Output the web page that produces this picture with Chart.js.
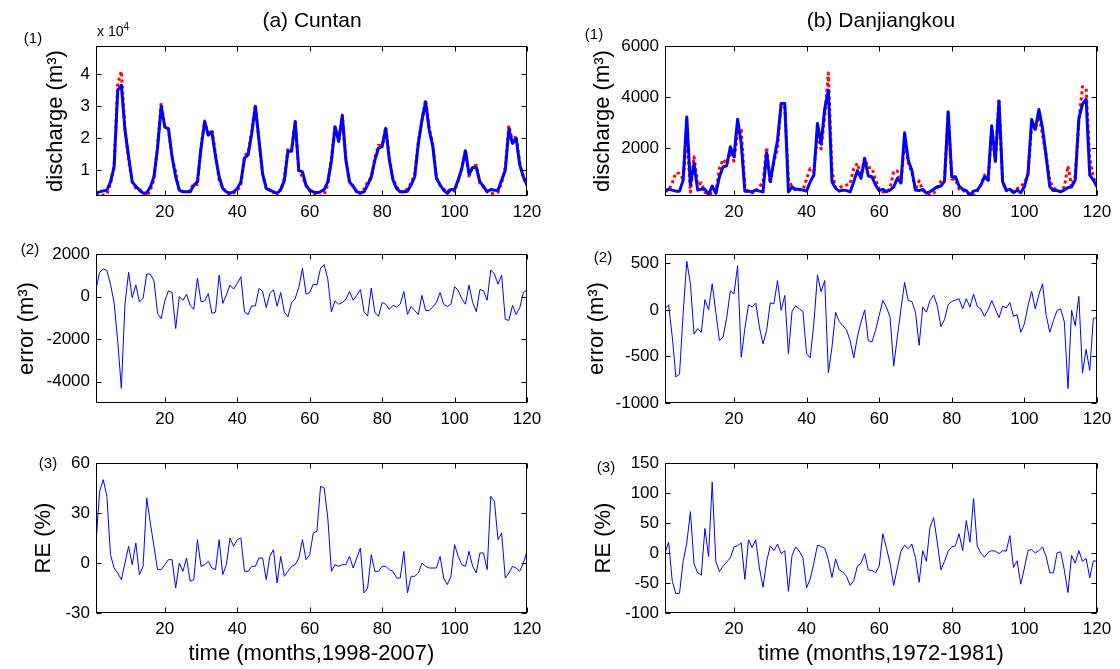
<!DOCTYPE html>
<html><head><meta charset="utf-8">
<script src="https://cdn.jsdelivr.net/npm/chart.js@4.4.1/dist/chart.umd.min.js"></script>
<style>
html,body{margin:0;padding:0;background:#fff;}
#wrap{position:relative;width:1120px;height:669px;overflow:hidden;font-family:"Liberation Sans",Arial,sans-serif;color:#000;background:#fff;}
canvas{position:absolute;}
.lbl{position:absolute;transform:translate(-50%,-50%);white-space:nowrap;line-height:1;}
.lft{position:absolute;white-space:nowrap;line-height:1;}
sup{font-size:10px;vertical-align:6px;line-height:0;}
</style></head><body>
<div id="wrap">
<canvas id="c11" width="560" height="222" style="left:0;top:0"></canvas>
<canvas id="c12" width="560" height="222" style="left:560px;top:0"></canvas>
<canvas id="c21" width="560" height="206" style="left:0;top:222px"></canvas>
<canvas id="c22" width="560" height="206" style="left:560px;top:222px"></canvas>
<canvas id="c31" width="560" height="241" style="left:0;top:428px"></canvas>
<canvas id="c32" width="560" height="241" style="left:560px;top:428px"></canvas>
<div class="lbl" style="left:312px;top:19px;font-size:21px">(a) Cuntan</div>
<div class="lbl" style="left:881px;top:19px;font-size:21px">(b) Danjiangkou</div>
<div class="lbl" style="left:33px;top:37px;font-size:15px">(1)</div>
<div class="lbl" style="left:594px;top:33px;font-size:15px">(1)</div>
<div class="lbl" style="left:30px;top:248px;font-size:15px">(2)</div>
<div class="lbl" style="left:603px;top:256px;font-size:15px">(2)</div>
<div class="lbl" style="left:48px;top:462px;font-size:15px">(3)</div>
<div class="lbl" style="left:606px;top:466px;font-size:15px">(3)</div>
<div class="lft" style="left:97px;top:24px;font-size:14px">x 10<sup>4</sup></div>
</div>
<script>
// ---------- data ----------
const months = Array.from({length:120},(_,i)=>i+1);
const xTicks = [20,40,60,80,100,120];

const cuntanSimulated = [3000,3300,3600,3800,6400,11100,35000,36600,22600,14300,
 6400,5000,3800,2900,3000,4800,8000,17000,30000,23500,
 23000,14300,8000,3800,3300,3300,3300,5300,6400,17000,
 25200,21000,22000,14300,8000,4300,3300,2900,3300,4300,
 6400,13800,14800,21600,30000,19500,9000,4300,3800,3300,
 2800,4000,6800,16000,16000,25200,10000,9500,5300,3800,
 3300,3000,3300,4000,6400,13000,23600,19000,27000,13200,
 6400,5000,3300,3000,3300,5500,8000,13200,16900,17400,
 23100,13200,7000,4300,3300,3300,3500,5500,8000,18400,
 25700,31400,22600,17400,7500,5500,3800,2800,4000,4000,
 7000,10600,16100,8800,10900,10900,6400,5000,3300,4000,
 3800,3800,7000,10000,22900,18400,20000,11700,8000,5500];
const cuntanObserved = [2650,2160,2300,2580,5820,11380,37100,40910,22960,13160,
 6450,4450,4050,2980,1940,3740,7260,17800,31040,23700,
 22730,14110,9500,3800,3470,3190,3710,5900,5530,17250,
 25400,20860,22790,15030,6990,4620,3220,2360,2950,3680,
 5470,14530,15640,22040,30440,19120,8760,4820,3660,2980,
 3260,3810,7530,16950,16280,25280,9570,8170,5190,3610,
 2720,2450,1960,2500,5580,13710,23800,19360,27280,13330,
 6160,5170,3240,2670,4010,6420,7600,13960,17820,17680,
 23460,13800,7410,4790,3660,3060,4340,5970,8650,19240,
 25640,32050,23250,17890,7780,5310,4160,3270,4360,3540,
 6700,10700,16460,8260,11180,11610,6070,4730,3470,2750,
 2740,3220,5990,11070,24020,18810,20840,12220,7810,5200];
const cuntanError = [350,1140,1300,1220,580,-280,-2100,-4310,-360,1140,
 -50,550,-250,-80,1060,1060,740,-800,-1040,-200,
 270,190,-1500,0,-170,110,-410,-600,870,-250,
 -200,140,-790,-730,1010,-320,80,540,350,620,
 930,-730,-840,-440,-440,380,240,-520,140,320,
 -460,190,-730,-950,-280,-80,430,1330,110,190,
 580,550,1340,1500,820,-710,-200,-360,-280,-130,
 240,-170,60,330,-710,-920,400,-760,-920,-280,
 -360,-600,-410,-490,-360,240,-840,-470,-650,-840,
 60,-650,-650,-490,-280,190,-360,-470,-360,460,
 300,-100,-360,540,-280,-710,330,270,-170,1250,
 1060,580,1010,-1070,-1120,-410,-840,-520,190,300];
const cuntanRE = [12,43,50,40,5,-3,-6,-10,0,10,
 -1,12,-7,-2,39,24,10,-4,-4,-1,
 2,2,-15,0,-5,3,-11,-10,14,-2,
 -1,1,-3,-4,14,-7,-1,15,10,14,
 15,-5,-5,-2,-2,3,3,-10,4,8,
 -12,4,-8,-5,-2,-1,3,14,2,5,
 18,19,46,45,27,-5,-1,-2,-1,-1,
 4,-3,3,9,-18,-15,5,-5,-5,-2,
 -2,-4,-5,-9,-9,7,-18,-8,-8,-6,
 0,-2,-3,-3,-3,4,-9,-13,-8,11,
 4,-1,-2,7,-2,-6,6,6,-4,40,
 37,14,18,-9,-6,-2,-3,-5,0,7];

const danSimulated = [350,400,370,330,330,760,3230,570,1415,370,
 410,400,200,530,240,890,1280,1320,2060,1670,
 3140,2200,330,330,300,370,330,300,1830,700,
 1540,2320,3750,3750,300,490,400,400,370,330,
 700,960,2975,2170,3560,4270,700,440,330,370,
 350,300,700,1130,830,1610,920,890,570,350,
 400,310,370,500,830,660,2610,1540,1150,370,
 350,400,250,310,400,500,530,725,3430,890,
 890,530,400,350,180,330,370,570,890,760,
 2880,1500,3850,700,370,400,270,370,270,500,
 1025,3130,2740,3520,2790,1670,500,350,350,310,
 370,470,500,760,3170,3730,3920,960,760,500];
const danObserved = [340,345,660,1050,1020,800,2710,290,1675,570,
 650,290,200,250,265,1220,1570,1405,1855,1500,
 2665,2710,530,275,270,295,515,665,2050,625,
 1475,2005,3755,3595,770,505,355,390,385,800,
 1215,1110,2600,1975,3245,4945,1100,465,455,540,
 565,630,1215,1420,960,1610,1250,1235,790,410,
 300,280,450,1105,1120,650,2315,1440,1060,395,
 730,370,275,210,240,455,710,830,3375,800,
 785,410,390,230,150,160,330,560,960,760,
 2780,1490,3935,660,350,320,340,420,510,650,
 980,2930,2730,3355,2510,1730,740,465,355,300,
 500,1315,505,930,3025,4410,4345,1610,850,585];
const danError = [10,55,-290,-720,-690,-40,520,280,-260,-200,
 -240,110,0,280,-25,-330,-290,-85,205,170,
 475,-510,-200,55,30,75,-185,-365,-220,75,
 65,315,-5,155,-470,-15,45,10,-15,-470,
 -515,-150,375,195,315,-675,-400,-25,-125,-170,
 -215,-330,-515,-290,-130,0,-330,-345,-220,-60,
 100,30,-80,-605,-290,10,295,100,90,-25,
 -380,30,-25,100,160,45,-180,-105,55,90,
 105,120,10,120,30,170,40,10,-70,0,
 100,10,-85,40,20,80,-70,-50,-240,-150,
 45,200,10,165,280,-60,-240,-115,-5,10,
 -130,-845,-5,-170,145,-680,-425,-650,-90,-85];
const danRE = [0,18,-47,-68,-67,-14,17,69,-18,-33,
 -37,41,-6,118,-14,-31,-22,-15,-8,10,
 12,17,-44,22,9,22,-25,-57,-14,12,
 4,15,-1,4,-64,-4,10,3,-8,-58,
 -43,-17,13,11,8,-11,-41,-10,-28,-32,
 -39,-54,-46,-22,-17,-1,-28,-29,-33,-22,
 32,8,-17,-54,-25,3,13,7,15,-8,
 -49,4,-14,43,59,18,-28,-14,3,10,
 12,32,4,54,18,91,12,0,-7,1,
 4,3,-1,4,3,29,-24,-13,-52,-25,
 4,6,0,4,10,-6,-33,-33,0,2,
 -28,-66,-4,-17,4,-14,-9,-41,-13,-14];

const cuntanFlowTicks = [10000,20000,30000,40000];
const danFlowTicks = [2000,4000,6000];
const cuntanErrTicks = [-4000,-2000,0,2000];
const danErrTicks = [-1000,-500,0,500];
const cuntanReTicks = [-30,0,30,60];
const danReTicks = [-100,-50,0,50,100,150];

// ---------- drawing ----------
const FONT = '"Liberation Sans", Arial, sans-serif';
const tickFont = {family: FONT, size: 17};
const titleFont = {family: FONT, size: 22};

const boxPlugin = {
  id: 'boxTicks',
  afterDraw(chart) {
    const {ctx, chartArea: a, scales: {x, y}} = chart;
    ctx.save();
    ctx.strokeStyle = '#000';
    ctx.lineWidth = 1;
    const L = Math.round(a.left) + 0.5, R = Math.round(a.right) - 0.5;
    const T = Math.round(a.top) + 0.5, B = Math.round(a.bottom) - 0.5;
    ctx.strokeRect(L, T, R - L, B - T);
    const len = 5;
    ctx.beginPath();
    x.ticks.forEach(t => {
      const p = Math.round(x.getPixelForValue(t.value)) + 0.5;
      ctx.moveTo(p, B); ctx.lineTo(p, B - len);
      ctx.moveTo(p, T); ctx.lineTo(p, T + len);
    });
    y.ticks.forEach(t => {
      const p = Math.round(y.getPixelForValue(t.value)) + 0.5;
      ctx.moveTo(L, p); ctx.lineTo(L + len, p);
      ctx.moveTo(R, p); ctx.lineTo(R - len, p);
    });
    ctx.stroke();
    ctx.restore();
  }
};

function makePanel(id, o) {
  const datasets = o.series.map(s => ({
    data: s.data, borderColor: s.color, borderWidth: s.width,
    borderDash: s.dash || [], borderCapStyle: 'butt', borderJoinStyle: 'round',
    pointRadius: 0, fill: false, tension: 0
  }));
  return new Chart(document.getElementById(id), {
    type: 'line',
    data: {labels: months, datasets},
    options: {
      responsive: false, animation: false, events: [],
      layout: {padding: {top: o.padTop, left: 0, right: o.padRight, bottom: 0}},
      plugins: {legend: {display: false}, tooltip: {enabled: false}, title: {display: false}},
      scales: {
        x: {
          type: 'linear', min: 1, max: 120,
          afterBuildTicks: s => { s.ticks = xTicks.map(v => ({value: v})); },
          afterFit: s => { s.height = o.xHeight; },
          grid: {display: false, drawTicks: false}, border: {display: false},
          ticks: {font: tickFont, color: '#000', padding: 6, maxRotation: 0, autoSkip: false,
                  callback: v => String(v)},
          title: o.xTitle ? {display: true, text: o.xTitle, font: titleFont, color: '#000',
                             padding: {top: 0, bottom: 2}} : {display: false}
        },
        y: {
          type: 'linear', min: o.yMin, max: o.yMax,
          afterBuildTicks: s => { s.ticks = o.yTicks.map(v => ({value: v})); },
          afterFit: s => { s.width = o.yWidth; },
          grid: {display: false, drawTicks: false}, border: {display: false},
          ticks: {font: tickFont, color: '#000', padding: 6, autoSkip: false,
                  callback: o.tickCb || (v => String(v))},
          title: {display: true, text: o.yTitle, font: titleFont, color: '#000',
                  padding: {top: o.yTitlePad, bottom: 0}}
        }
      }
    },
    plugins: [boxPlugin]
  });
}

const BLUE = '#0000ff', RED = '#ff0000';

makePanel('c11', {
  series: [{data: cuntanSimulated, color: BLUE, width: 3},
           {data: cuntanObserved, color: RED, width: 3, dash: [3, 3]}],
  yMin: 2000, yMax: 48800, yTicks: cuntanFlowTicks, tickCb: v => String(v / 10000),
  yTitle: 'discharge (m³)', yTitlePad: 43, yWidth: 96, padTop: 46, padRight: 33, xHeight: 26
});
makePanel('c12', {
  series: [{data: danSimulated, color: BLUE, width: 3},
           {data: danObserved, color: RED, width: 3, dash: [3, 3]}],
  yMin: 140, yMax: 6000, yTicks: danFlowTicks,
  yTitle: 'discharge (m³)', yTitlePad: 30, yWidth: 105, padTop: 46, padRight: 23, xHeight: 26
});
makePanel('c21', {
  series: [{data: cuntanError, color: BLUE, width: 1}],
  yMin: -5000, yMax: 2000, yTicks: cuntanErrTicks,
  yTitle: 'error (m³)', yTitlePad: 14, yWidth: 96, padTop: 32, padRight: 33, xHeight: 25
});
makePanel('c22', {
  series: [{data: danError, color: BLUE, width: 1}],
  yMin: -1000, yMax: 600, yTicks: danErrTicks,
  yTitle: 'error (m³)', yTitlePad: 24, yWidth: 105, padTop: 32, padRight: 23, xHeight: 25
});
makePanel('c31', {
  series: [{data: cuntanRE, color: BLUE, width: 1}],
  yMin: -30, yMax: 60, yTicks: cuntanReTicks,
  yTitle: 'RE (%)', yTitlePad: 31, yWidth: 96, padTop: 35, padRight: 33, xHeight: 56,
  xTitle: 'time (months,1998-2007)'
});
makePanel('c32', {
  series: [{data: danRE, color: BLUE, width: 1}],
  yMin: -100, yMax: 150, yTicks: danReTicks,
  yTitle: 'RE (%)', yTitlePad: 31, yWidth: 105, padTop: 35, padRight: 23, xHeight: 56,
  xTitle: 'time (months,1972-1981)'
});
</script>
</body></html>
